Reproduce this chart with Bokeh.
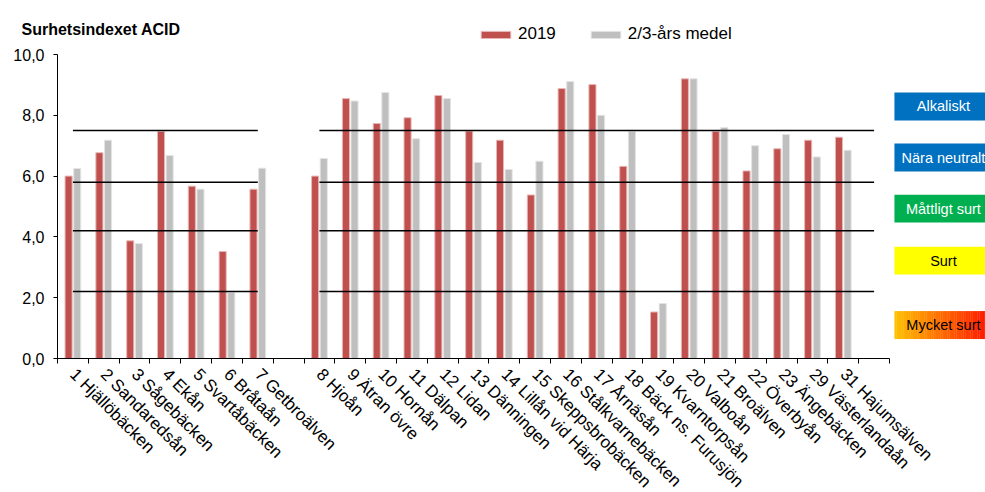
import numpy as np
from bokeh.plotting import figure
from bokeh.models import (Range1d, FixedTicker, Legend, LegendItem, Label,
                          ColumnDataSource)
from bokeh.embed import file_html
from bokeh.resources import INLINE

# --- data -----------------------------------------------------------------
# Empty strings are spacer slots on the category axis.
stations = [
    "1 Hjällöbäcken", "2 Sandaredsån", "3 Sågebäcken", "4 Ekån",
    "5 Svartåbäcken", "6 Bråtaån", "7 Getbroälven", "",
    "8 Hjoån", "9 Ätran övre", "10 Hornån", "11 Dälpan", "12 Lidan",
    "13 Dänningen", "14 Lillån vid Härja", "15 Skeppsbrobäcken",
    "16 Stålkvarnebäcken", "17 Årnäsån", "18 Bäck ns. Furusjön",
    "19 Kvarntorpsån", "20 Valboån", "21 Broälven", "22 Överbyån",
    "23 Ängebäcken", "29 Västerlandaån", "31 Hajumsälven", "",
]
acid_2019 = [6.00, 6.77, 3.87, 7.47, 5.67, 3.52, 5.57, None,
             6.00, 8.55, 7.73, 7.92, 8.65, 7.48, 7.18, 5.38,
             8.88, 9.01, 6.32, 1.53, 9.20, 7.47, 6.17, 6.90,
             7.18, 7.28, None]
acid_mean = [6.25, 7.18, 3.78, 6.68, 5.57, 2.17, 6.26, None,
             6.58, 8.47, 8.75, 7.23, 8.55, 6.45, 6.22, 6.49,
             9.11, 8.00, 7.47, 1.81, 9.20, 7.60, 7.00, 7.37,
             6.63, 6.85, None]
series_names = ["2019", "2/3-års medel"]
class_limits = [7.5, 5.8, 4.2, 2.2]
class_names = ["Alkaliskt", "Nära neutralt", "Måttligt surt", "Surt", "Mycket surt"]
y_ticks = [0, 2, 4, 6, 8, 10]
title_text = "Surhetsindexet ACID"

# --- styling / layout ---------------------------------------------------------
FONT = "Liberation Sans"
RED = "#C0504D"
GREY = "#BFBFBF"
W, H = 985, 492
AXIS_X_PX = 57              # screen x of the value axis
AXIS_Y_PX = 358             # screen y of the category axis
SLOT_PX = 30.815            # width of one category slot
UNIT_PX = 30.4              # pixels per index unit

n = len(stations)
centers = np.arange(n) + 0.5
to_float = lambda v: np.nan if v is None else float(v)
src = ColumnDataSource(dict(
    x_a=centers - 0.14, x_b=centers + 0.14,
    a=[to_float(v) for v in acid_2019],
    b=[to_float(v) for v in acid_mean],
))

# the plot frame covers the whole canvas; both axes are pinned at 0
p = figure(width=W, height=H, output_backend="svg", toolbar_location=None,
           x_range=Range1d(-AXIS_X_PX / SLOT_PX, (W - AXIS_X_PX) / SLOT_PX),
           y_range=Range1d(-(H - AXIS_Y_PX) / UNIT_PX, AXIS_Y_PX / UNIT_PX),
           min_border=0)
p.outline_line_color = None
p.xgrid.visible = False
p.ygrid.visible = False
p.background_fill_color = "white"
p.border_fill_color = "white"

r_a = p.vbar(x="x_a", top="a", width=0.23, source=src, fill_color=RED,
             line_color="#E6B9B8", line_width=1)
r_b = p.vbar(x="x_b", top="b", width=0.23, source=src, fill_color=GREY,
             line_color="#E4E4E4", line_width=1)

# class limit lines, one run per station group
split = stations.index("")
for lim in class_limits:
    p.segment(x0=[centers[0], centers[split + 1]], y0=[lim, lim],
              x1=[centers[split - 1], centers[-1]], y1=[lim, lim],
              line_color="black", line_width=1.5)

# x axis: labels at slot centres, tick marks on slot boundaries
xa = p.xaxis[0]
xa.fixed_location = 0
xa.ticker = FixedTicker(ticks=list(centers), minor_ticks=list(range(n + 1)))
xa.major_label_overrides = {float(c): s for c, s in zip(centers, stations)}
xa.bounds = (0, n)
xa.major_tick_line_color = None
xa.minor_tick_in = 0
xa.minor_tick_out = 5
xa.minor_tick_line_color = "black"
xa.axis_line_color = "black"
xa.major_label_orientation = -np.pi / 4
xa.major_label_text_font = FONT
xa.major_label_text_font_size = "17px"
xa.major_label_text_color = "black"
xa.major_label_standoff = 7

ya = p.yaxis[0]
ya.fixed_location = 0
ya.ticker = FixedTicker(ticks=y_ticks)
ya.major_label_overrides = {t: f"{t:.1f}".replace(".", ",") for t in y_ticks}
ya.bounds = (0, 10)
ya.major_tick_in = 0
ya.major_tick_out = 4
ya.minor_tick_line_color = None
ya.axis_line_color = "black"
ya.major_label_text_font = FONT
ya.major_label_text_font_size = "16px"
ya.major_label_text_color = "black"
ya.major_label_standoff = 9

# class boxes on the right
box_y = [8.29, 6.61, 4.93, 3.22, 1.10]
box_half = 0.46
box_x0, box_x1 = 27.16, 30.6
box_colors = ["#0070C0", "#0070C0", "#00B050", "#FFFF00"]
text_colors = ["white", "white", "white", "black", "black"]
for yc, col in zip(box_y[:4], box_colors):
    p.quad(left=[box_x0], right=[box_x1], bottom=[yc - box_half],
           top=[yc + box_half], fill_color=col, line_color=None)
# orange-to-red gradient box
steps = 60
edges = np.linspace(box_x0, box_x1, steps + 1)
grad = ["#%02X%02X%02X" % (255, int(round(192 * (1 - k / (steps - 1)))), 0)
        for k in range(steps)]
p.quad(left=edges[:-1], right=edges[1:] + 0.01,
       bottom=[box_y[4] - box_half] * steps, top=[box_y[4] + box_half] * steps,
       fill_color=grad, line_color=None)
p.text(x=[28.75] * 5, y=box_y, text=class_names, text_color=text_colors,
       text_align="center", text_baseline="middle",
       text_font={"value": FONT}, text_font_size={"value": "14.5px"})

# legend
legend = Legend(items=[LegendItem(label=series_names[0], renderers=[r_a]),
                       LegendItem(label=series_names[1], renderers=[r_b])],
                orientation="horizontal", location=(477, H - 44),
                glyph_width=37, glyph_height=9, label_standoff=4, spacing=31,
                padding=0, margin=0, border_line_alpha=0,
                background_fill_alpha=0, label_text_font=FONT,
                label_text_font_size="17px", label_text_color="black")
p.add_layout(legend)

p.add_layout(Label(x=21, y=H - 28.5, x_units="screen",
                   y_units="screen", text=title_text, text_font=FONT,
                   text_font_size="16px", text_font_style="bold",
                   text_baseline="alphabetic", text_color="black"))

open("out.html", "w").write(file_html(p, INLINE))
